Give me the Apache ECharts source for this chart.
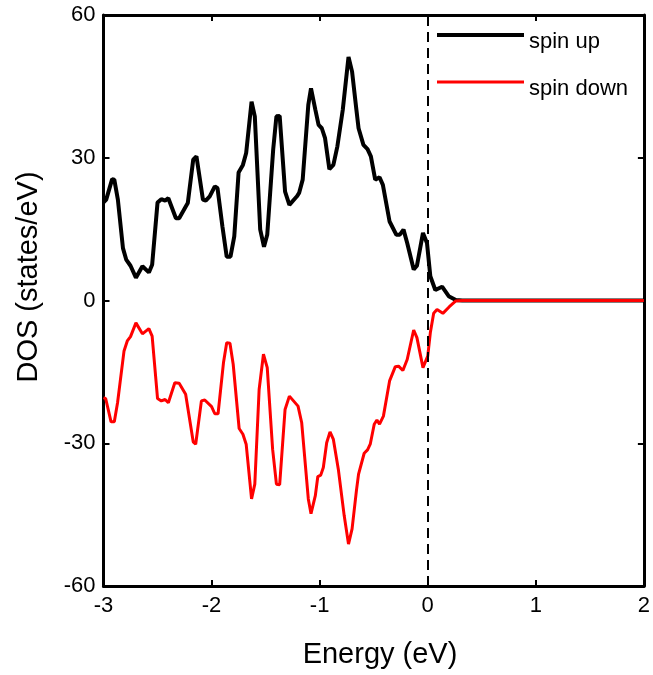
<!DOCTYPE html>
<html>
<head>
<meta charset="utf-8">
<script src="https://cdn.jsdelivr.net/npm/echarts@6/dist/echarts.min.js"></script>
<style>
  html, body { margin: 0; padding: 0; background: #fff; }
  #chart { width: 653px; height: 675px; }
</style>
</head>
<body>
<div id="chart"></div>
<script>
// Spin-resolved density of states (states/eV) against energy (eV), Fermi level at 0.
const energyUp = [
  -3.00, -2.975, -2.92, -2.90, -2.867, -2.82, -2.79, -2.75, -2.70, -2.64,
  -2.58, -2.55, -2.50, -2.465, -2.43, -2.40, -2.33, -2.30, -2.24, -2.22,
  -2.17, -2.14, -2.08, -2.054, -2.017, -1.97, -1.945, -1.90, -1.86, -1.825,
  -1.79, -1.75, -1.71, -1.68, -1.63, -1.60, -1.55, -1.515, -1.485, -1.43,
  -1.40, -1.37, -1.32, -1.28, -1.21, -1.19, -1.157, -1.105, -1.08, -1.04,
  -1.01, -0.98, -0.95, -0.91, -0.873, -0.836, -0.786, -0.733, -0.70, -0.66,
  -0.64, -0.595, -0.557, -0.526, -0.486, -0.446, -0.415, -0.353, -0.29, -0.26,
  -0.224, -0.19, -0.13, -0.10, -0.044, -0.007, 0.024, 0.07, 0.133, 0.194,
  0.26, 0.32, 2.00
];
const dosUp = [
  20.6, 21.2, 25.5, 25.4, 21.2, 11.0, 8.6, 7.3, 4.8, 7.2,
  5.9, 7.5, 20.6, 21.3, 21.0, 21.5, 17.3, 17.3, 19.7, 20.5,
  29.6, 30.3, 21.2, 21.0, 21.9, 24.0, 23.6, 15.6, 9.2, 9.2,
  13.5, 26.9, 28.5, 31.0, 41.8, 38.7, 14.9, 11.3, 13.8, 31.7,
  38.7, 38.8, 22.9, 20.1, 21.9, 22.6, 25.4, 41.1, 44.6, 40.1,
  36.9, 36.2, 34.1, 27.6, 28.5, 32.4, 40.1, 51.2, 48.1, 40.1,
  36.2, 32.7, 31.8, 30.3, 25.4, 25.9, 24.3, 16.6, 13.8, 13.8,
  14.9, 12.1, 6.5, 7.3, 14.2, 12.1, 5.1, 2.2, 2.9, 0.9,
  0.1, 0.0, 0.0
];

const energyDown = [
  -3.00, -2.98, -2.93, -2.90, -2.87, -2.81, -2.78, -2.75, -2.70, -2.64,
  -2.58, -2.55, -2.50, -2.465, -2.43, -2.40, -2.34, -2.30, -2.24, -2.17,
  -2.147, -2.094, -2.063, -2.00, -1.97, -1.94, -1.89, -1.86, -1.83, -1.80,
  -1.745, -1.71, -1.68, -1.63, -1.60, -1.56, -1.52, -1.485, -1.435, -1.40,
  -1.37, -1.32, -1.28, -1.20, -1.166, -1.105, -1.08, -1.04, -1.017, -0.99,
  -0.966, -0.935, -0.904, -0.873, -0.827, -0.773, -0.733, -0.70, -0.66, -0.64,
  -0.588, -0.557, -0.532, -0.495, -0.47, -0.446, -0.41, -0.353, -0.30, -0.27,
  -0.23, -0.19, -0.13, -0.10, -0.044, 0.00, 0.024, 0.055, 0.086, 0.14,
  0.20, 0.26, 0.32, 2.00
];
const dosDown = [
  -20.4, -20.6, -25.5, -25.5, -21.5, -10.6, -8.5, -7.6, -4.7, -7.0,
  -5.9, -7.5, -20.6, -21.1, -20.8, -21.5, -17.3, -17.4, -19.7, -29.7,
  -30.2, -21.1, -20.9, -22.3, -23.8, -23.8, -13.1, -8.9, -9.0, -13.4,
  -26.9, -28.1, -30.2, -41.7, -38.6, -18.7, -11.3, -14.1, -31.3, -38.6,
  -38.7, -22.9, -20.1, -22.2, -25.7, -41.7, -44.8, -41.0, -37.0, -36.7,
  -35.1, -29.9, -27.6, -29.2, -35.5, -45.2, -51.2, -48.0, -40.0, -36.5,
  -32.1, -31.4, -30.2, -26.0, -25.1, -26.0, -24.3, -16.9, -13.9, -13.8,
  -14.7, -12.4, -6.2, -7.8, -14.1, -11.7, -6.8, -2.7, -1.9, -2.7,
  -1.3, -0.1, 0.0, 0.0
];

const energyTicks = [-3, -2, -1, 0, 1, 2];
const dosTicks = [-60, -30, 0, 30, 60];
const fermiLevel = 0;

const pairs = (xs, ys) => xs.map((x, i) => [x, ys[i]]);

const FONT = 'Liberation Sans, Arial, sans-serif';
const axisLineStyle = { color: '#000', width: 3 };
const tickStyle = { color: '#000', width: 2 };

const xBase = {
  type: 'value',
  min: energyTicks[0],
  max: energyTicks[energyTicks.length - 1],
  interval: 1,
  splitLine: { show: false },
  axisLine: { show: true, onZero: false, lineStyle: axisLineStyle },
  axisTick: { show: true, inside: true, length: 6, lineStyle: tickStyle }
};
const yBase = {
  type: 'value',
  min: dosTicks[0],
  max: dosTicks[dosTicks.length - 1],
  interval: 30,
  splitLine: { show: false },
  axisLine: { show: true, onZero: false, lineStyle: axisLineStyle },
  axisTick: { show: true, inside: true, length: 6, lineStyle: tickStyle }
};

// legend labels sit a little below their line samples
const legendText = {
  color: '#000', fontSize: 22, fontFamily: FONT,
  rich: { t: { color: '#000', fontSize: 22, fontFamily: FONT, padding: [14, 0, 0, 0] } }
};
const legendFormatter = name => '{t|' + name + '}';

const chart = echarts.init(document.getElementById('chart'));
chart.setOption({
  animation: false,
  backgroundColor: '#fff',
  grid: { left: 103.5, right: 8, top: 15, bottom: 89, containLabel: false },
  xAxis: [
    Object.assign({}, xBase, {
      position: 'bottom',
      axisLabel: { show: true, color: '#000', fontSize: 22, fontFamily: FONT, margin: 9 }
    }),
    Object.assign({}, xBase, { position: 'top', axisLabel: { show: false } })
  ],
  yAxis: [
    Object.assign({}, yBase, {
      position: 'left',
      axisLabel: { show: true, color: '#000', fontSize: 22, fontFamily: FONT, margin: 8 }
    }),
    Object.assign({}, yBase, { position: 'right', axisLabel: { show: false } })
  ],
  legend: [
    {
      data: ['spin up'],
      left: 437, top: 31, padding: 0,
      icon: 'rect', itemWidth: 87, itemHeight: 4, itemGap: 0,
      formatter: legendFormatter,
      textStyle: legendText
    },
    {
      data: ['spin down'],
      left: 437, top: 78, padding: 0,
      icon: 'rect', itemWidth: 87, itemHeight: 3, itemGap: 0,
      formatter: legendFormatter,
      textStyle: legendText
    }
  ],
  graphic: [
    {
      type: 'text', x: 29, y: 277, rotation: Math.PI / 2,
      style: { text: 'DOS (states/eV)', font: '29px ' + FONT, fill: '#000', align: 'center', verticalAlign: 'middle' }
    },
    {
      type: 'text', x: 380, y: 655,
      style: { text: 'Energy (eV)', font: '29px ' + FONT, fill: '#000', align: 'center', verticalAlign: 'middle' }
    }
  ],
  series: [
    {
      name: 'spin up',
      type: 'line',
      data: pairs(energyUp, dosUp),
      symbol: 'none',
      color: '#000',
      lineStyle: { color: '#000', width: 4 },
      itemStyle: { color: '#000' },
      z: 2,
      markLine: {
        silent: true,
        symbol: 'none',
        label: { show: false },
        lineStyle: { color: '#000', width: 2, type: [10, 6] },
        data: [{ xAxis: fermiLevel }]
      }
    },
    {
      name: 'spin down',
      type: 'line',
      data: pairs(energyDown, dosDown),
      symbol: 'none',
      color: '#ff0000',
      lineStyle: { color: '#ff0000', width: 3 },
      itemStyle: { color: '#ff0000' },
      z: 3
    }
  ]
});
</script>
</body>
</html>
